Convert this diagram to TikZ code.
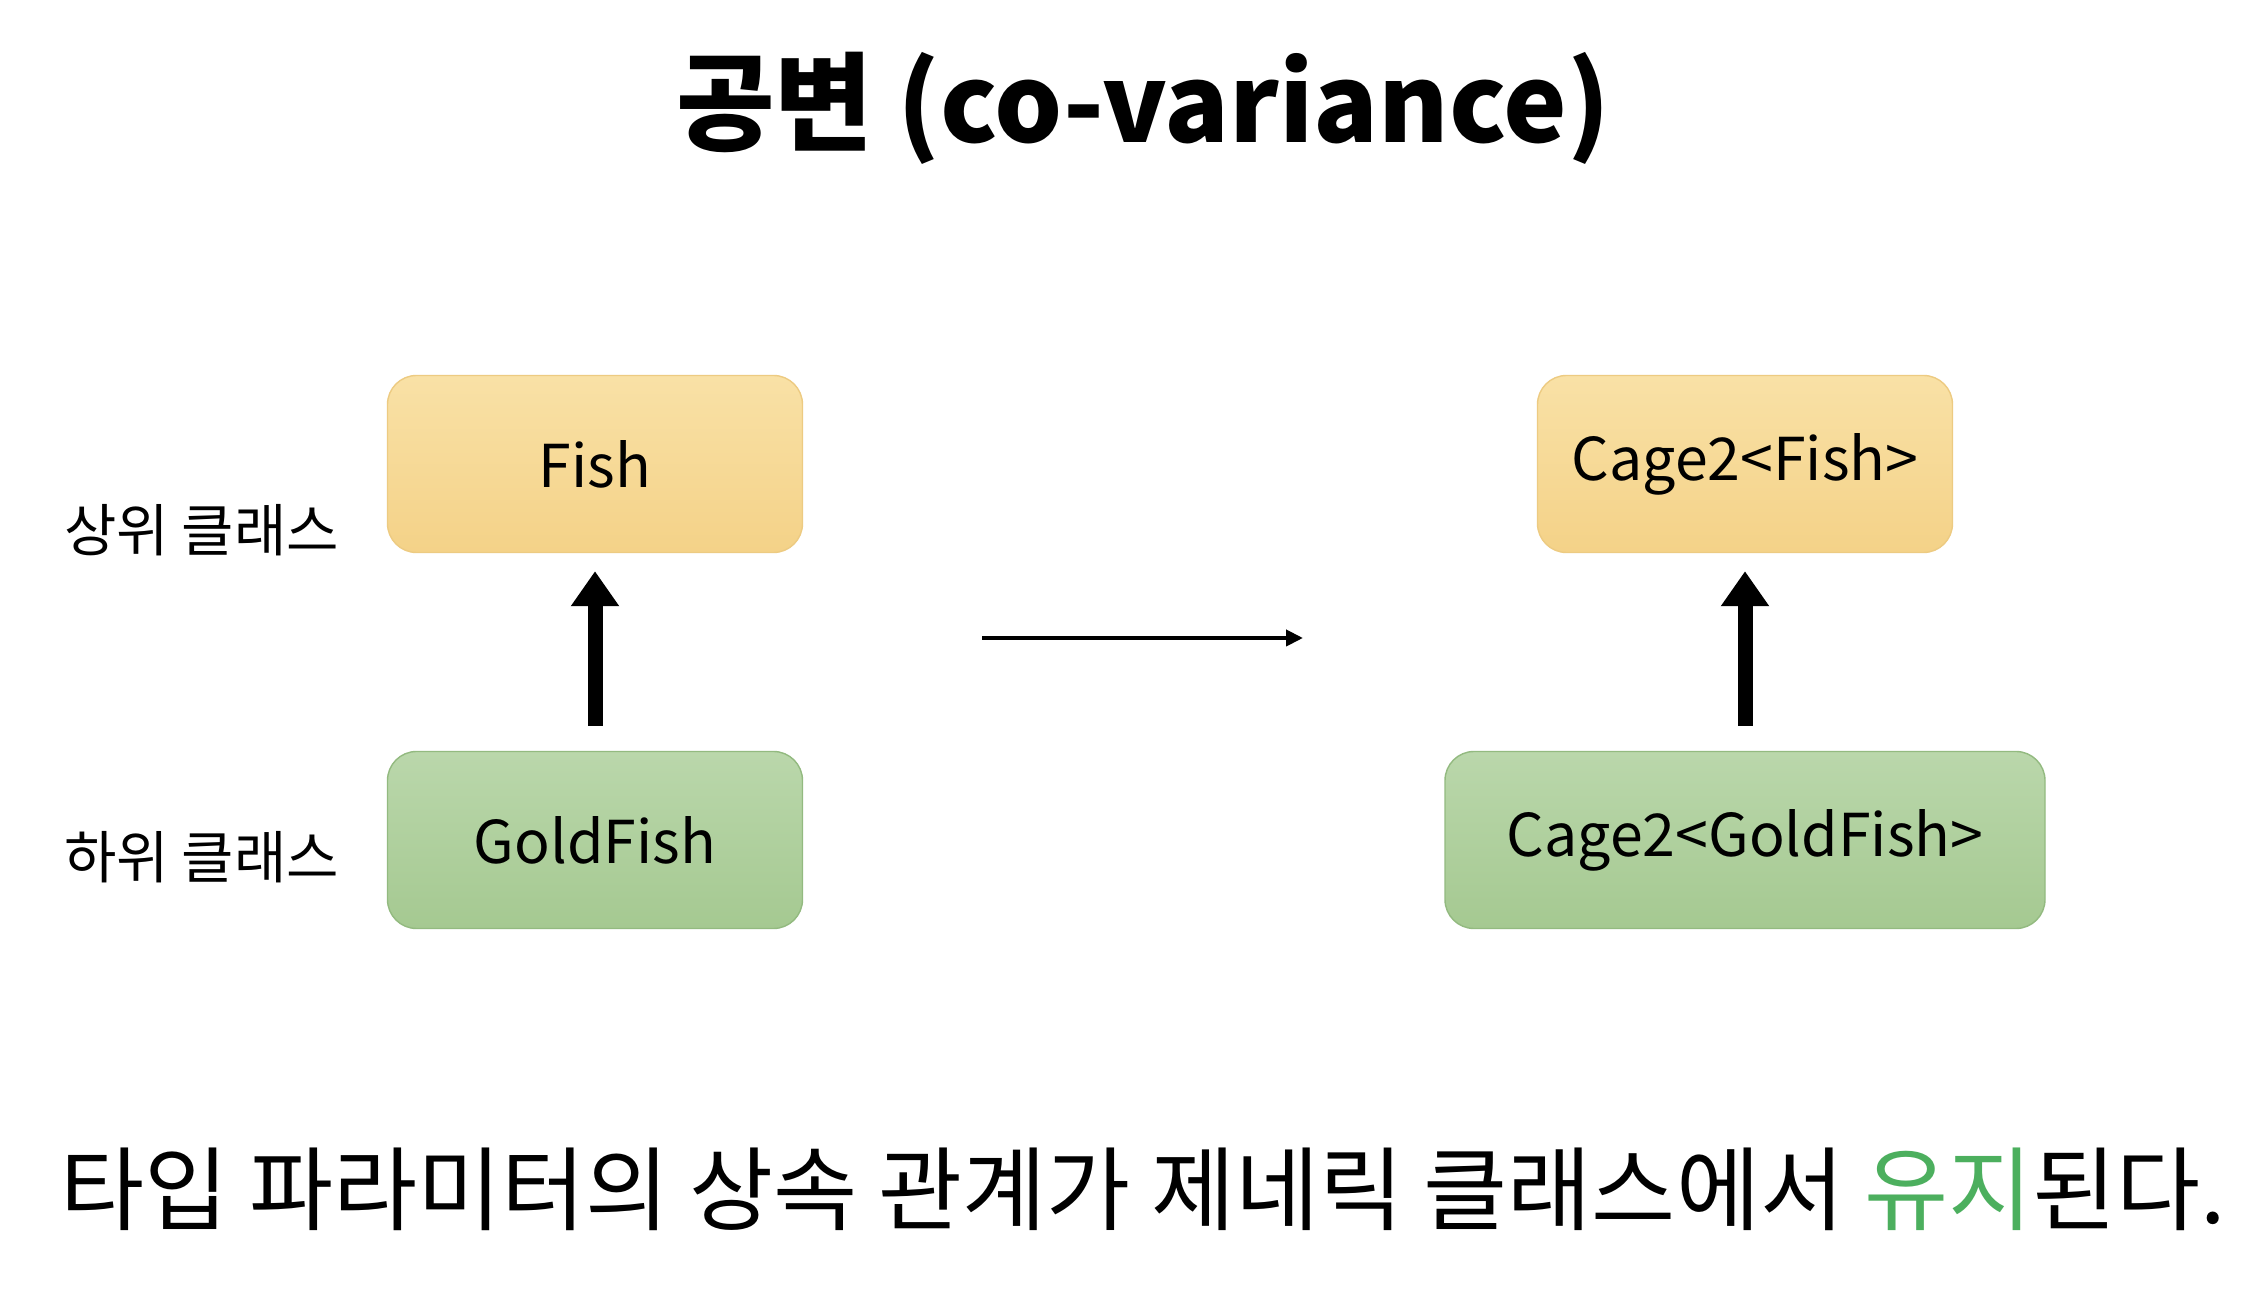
\documentclass[tikz,border=0pt]{standalone}
\usepackage{fontspec}
\setmainfont{Noto Sans CJK KR}
\usetikzlibrary{arrows.meta}

\definecolor{supertop}{HTML}{F9E1A6}
\definecolor{superbot}{HTML}{F4D288}
\definecolor{superline}{HTML}{EDCB82}
\definecolor{subtop}{HTML}{BAD7AB}
\definecolor{subbot}{HTML}{A5C991}
\definecolor{subline}{HTML}{93BA80}
\definecolor{keepgreen}{HTML}{4CAF5E}

\begin{document}
\begin{tikzpicture}[
    superbox/.style={draw=superline, top color=supertop, bottom color=superbot, rounded corners=0.29cm, minimum width=4.15cm, minimum height=1.77cm, inner sep=0pt, font=\fontsize{16.8}{20}\selectfont},
    subbox/.style={superbox, draw=subline, top color=subtop, bottom color=subbot},
    inherit/.style={line width=0.15cm, -{Triangle[length=0.35cm, width=0.46cm]}, shorten <=0.25cm, shorten >=0.18cm},
    side/.style={anchor=west, font=\fontsize{16.2}{19}\selectfont}
]
    \useasboundingbox[fill=white] (0,0) rectangle (22.68,13.10);

    % Title
    \node[anchor=base, font=\fontsize{30.5}{35}\bfseries] (title) at (11.43, 11.67) {공변 (co-variance)};

    % Type parameters
    \node[superbox] (fish) at (5.95, 8.46) {Fish};
    \node[subbox] (goldfish) at (5.95, 4.70) {GoldFish};
    \draw[inherit] (goldfish.north) -- (fish.south);

    % Generic classes
    \node[superbox] (cagefish) at (17.45, 8.46) {Cage2<Fish>};
    \node[subbox, minimum width=6cm] (cagegold) at (17.45, 4.70) {Cage2<GoldFish>};
    \draw[inherit] (cagegold.north) -- (cagefish.south);

    % Side labels
    \node[side] (superlabel) at (0.52, 7.80) {상위 클래스};
    \node[side] (sublabel) at (0.52, 4.53) {하위 클래스};

    % Mapping arrow
    \coordinate (mapfrom) at (9.82, 6.72);
    \coordinate (mapto) at (13.03, 6.72);
    \draw[line width=0.04cm, -{Triangle[length=0.17cm, width=0.16cm]}] (mapfrom) -- (mapto);

    % Conclusion
    \node[anchor=west, font=\fontsize{26}{30}\selectfont] (rule) at (0.48, 1.21) {타입 파라미터의 상속 관계가 제네릭 클래스에서 \textcolor{keepgreen}{유지}된다.};
\end{tikzpicture}
\end{document}
